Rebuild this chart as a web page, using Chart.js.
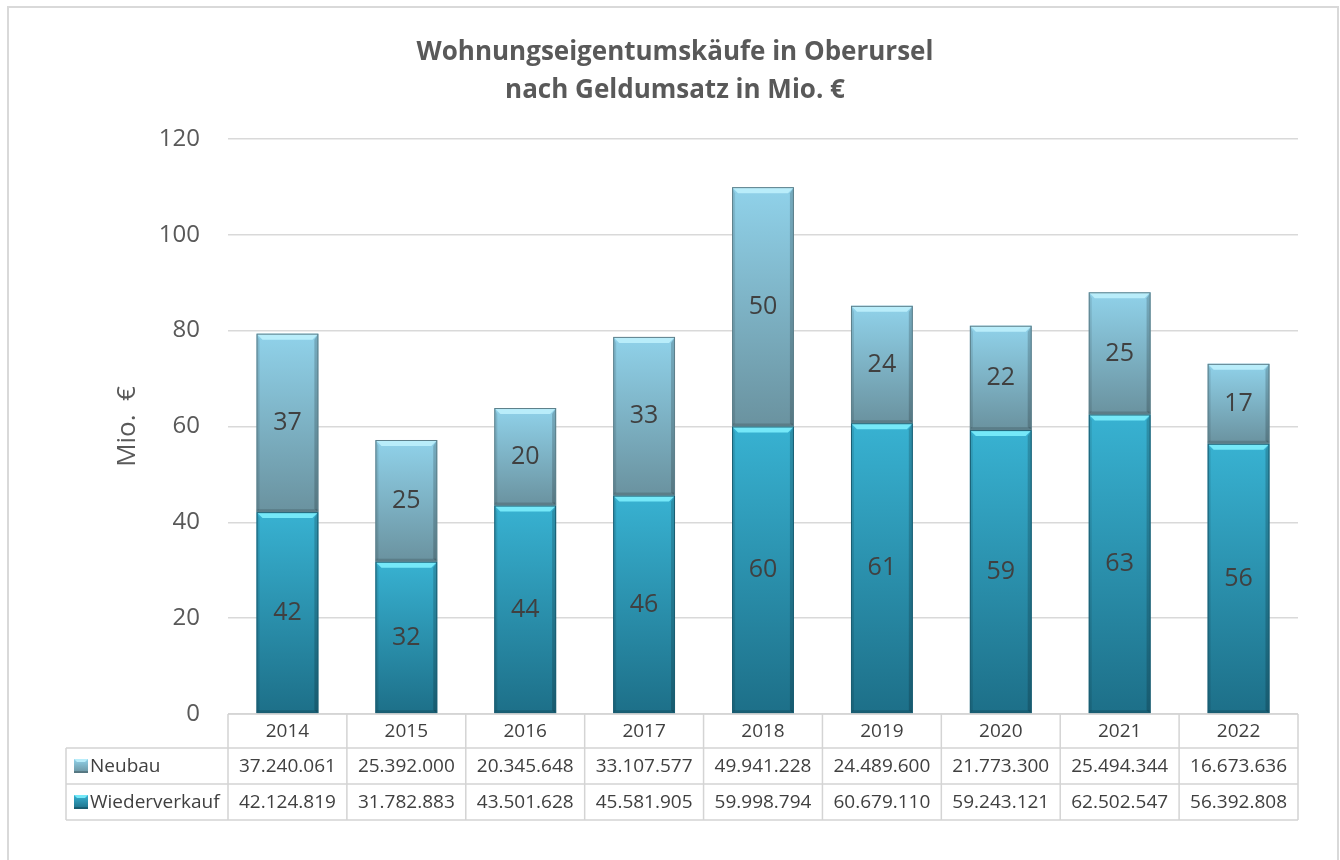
<!DOCTYPE html>
<html>
<head>
<meta charset="utf-8">
<script src="https://cdn.jsdelivr.net/npm/chart.js@4/dist/chart.umd.min.js"></script>
<style>
  html, body { margin: 0; padding: 0; background: #ffffff; }
  #wrap { position: relative; width: 1340px; height: 860px; }
  canvas { display: block; }
</style>
</head>
<body>
<div id="wrap"><canvas id="c" width="1340" height="860"></canvas></div>
<script>
const years = ['2014', '2015', '2016', '2017', '2018', '2019', '2020', '2021', '2022'];
const neubau = [37240061, 25392000, 20345648, 33107577, 49941228, 24489600, 21773300, 25494344, 16673636];
const wiederverkauf = [42124819, 31782883, 43501628, 45581905, 59998794, 60679110, 59243121, 62502547, 56392808];
const yTicksMax = 120;
const yTicksStep = 20;
const titleLines = ['Wohnungseigentumskäufe in Oberursel', 'nach Geldumsatz in Mio. €'];
const yTitle = 'Mio.  €';
const seriesNames = ['Neubau', 'Wiederverkauf'];

const toMio = v => v / 1e6;
const fmt = v => v.toLocaleString('de-DE');

const FONT = "'Open Sans', 'Noto Sans', sans-serif";
const GRID = '#d9d9d9';

const palette = {
  Wiederverkauf: { top: '#38b2d2', bottom: '#1d6f88', hi: 'rgba(120,235,250,0.95)', edge: '#1a5d72' },
  Neubau: { top: '#90d2ea', bottom: '#6a929f', hi: 'rgba(190,240,252,0.9)', edge: '#5d7f8a' }
};

function gradientFor(name) {
  return function (ctx) {
    const chart = ctx.chart;
    const ca = chart.chartArea;
    const p = palette[name];
    if (!ca || ctx.type !== 'data') return p.top;
    const y = chart.scales.y;
    const i = ctx.dataIndex;
    const start = name === 'Wiederverkauf' ? 0 : toMio(wiederverkauf[i]);
    const end = start + (name === 'Wiederverkauf' ? toMio(wiederverkauf[i]) : toMio(neubau[i]));
    const g = chart.ctx.createLinearGradient(0, y.getPixelForValue(end), 0, y.getPixelForValue(start));
    g.addColorStop(0, p.top);
    g.addColorStop(1, p.bottom);
    return g;
  };
}

const bevelPlugin = {
  id: 'bevel',
  afterDatasetsDraw(chart) {
    const ctx = chart.ctx;
    chart.data.datasets.forEach((ds, di) => {
      const p = palette[ds.label];
      chart.getDatasetMeta(di).data.forEach(el => {
        const l = el.x - el.width / 2, r = el.x + el.width / 2;
        const t = Math.min(el.y, el.base), b = Math.max(el.y, el.base);
        const bv = 6;
        ctx.save();
        ctx.fillStyle = p.hi;
        ctx.beginPath();
        ctx.moveTo(l, t); ctx.lineTo(r, t); ctx.lineTo(r - bv, t + bv); ctx.lineTo(l + bv, t + bv); ctx.closePath();
        ctx.fill();
        ctx.fillStyle = 'rgba(0,0,0,0.18)';
        ctx.beginPath();
        ctx.moveTo(r, t); ctx.lineTo(r, b); ctx.lineTo(r - 4, b - 3); ctx.lineTo(r - 4, t + bv); ctx.closePath();
        ctx.fill();
        ctx.fillStyle = 'rgba(0,0,0,0.10)';
        ctx.beginPath();
        ctx.moveTo(l, t); ctx.lineTo(l, b); ctx.lineTo(l + 3, b - 3); ctx.lineTo(l + 3, t + bv); ctx.closePath();
        ctx.fill();
        ctx.fillStyle = 'rgba(0,0,0,0.15)';
        ctx.fillRect(l, b - 3, r - l, 3);
        ctx.strokeStyle = p.edge;
        ctx.lineWidth = 1;
        ctx.strokeRect(l + 0.5, t + 0.5, r - l - 1, b - t - 1);
        ctx.restore();
      });
    });
    ctx.save();
    ctx.font = '25px ' + FONT;
    ctx.fillStyle = '#404040';
    ctx.textAlign = 'center';
    ctx.textBaseline = 'middle';
    chart.data.datasets.forEach((ds, di) => {
      chart.getDatasetMeta(di).data.forEach((el, i) => {
        ctx.fillText(String(Math.round(ds.data[i])), el.x, (el.y + el.base) / 2);
      });
    });
    ctx.restore();
  }
};

function drawKey(ctx, x, y, s, p) {
  const g = ctx.createLinearGradient(0, y, 0, y + s);
  g.addColorStop(0, p.top); g.addColorStop(1, p.bottom);
  ctx.fillStyle = g;
  ctx.fillRect(x, y, s, s);
  ctx.fillStyle = p.hi;
  ctx.beginPath();
  ctx.moveTo(x, y); ctx.lineTo(x + s, y); ctx.lineTo(x + s - 3, y + 3); ctx.lineTo(x + 3, y + 3); ctx.closePath();
  ctx.fill();
  ctx.fillStyle = 'rgba(0,0,0,0.2)';
  ctx.fillRect(x, y + s - 2, s, 2);
}

const tablePlugin = {
  id: 'dataTable',
  afterDraw(chart) {
    const ctx = chart.ctx;
    const x = chart.scales.x;
    const ca = chart.chartArea;
    const n = years.length;
    const cw = (ca.right - ca.left) / n;
    const rowH = [34, 36, 36];
    const top = ca.bottom;
    const r1 = top + rowH[0], r2 = r1 + rowH[1], r3 = r2 + rowH[2];
    const leftCol = 66;
    ctx.save();
    ctx.strokeStyle = GRID;
    ctx.lineWidth = 2;
    ctx.strokeRect(8, 7, 1330, 880);
    ctx.lineWidth = 1.5;
    ctx.strokeStyle = '#d4d4d4';
    ctx.beginPath();
    ctx.moveTo(ca.left, top); ctx.lineTo(ca.right, top);
    [r1, r2, r3].forEach(yy => { ctx.moveTo(leftCol, yy); ctx.lineTo(ca.right, yy); });
    ctx.moveTo(leftCol, r1); ctx.lineTo(leftCol, r3);
    for (let i = 0; i <= n; i++) {
      const xx = ca.left + i * cw;
      ctx.moveTo(xx, top); ctx.lineTo(xx, r3);
    }
    ctx.stroke();
    ctx.font = '19px ' + FONT;
    ctx.fillStyle = '#404040';
    ctx.textBaseline = 'middle';
    ctx.textAlign = 'center';
    years.forEach((yr, i) => {
      const cx = x.getPixelForValue(i);
      ctx.fillText(yr, cx, (top + r1) / 2 + 1);
      ctx.fillText(fmt(neubau[i]), cx, (r1 + r2) / 2 + 1);
      ctx.fillText(fmt(wiederverkauf[i]), cx, (r2 + r3) / 2 + 1);
    });
    ctx.textAlign = 'left';
    drawKey(ctx, 74, (r1 + r2) / 2 - 7, 14, palette.Neubau);
    ctx.fillStyle = '#404040';
    ctx.fillText(seriesNames[0], 90, (r1 + r2) / 2 + 1);
    drawKey(ctx, 74, (r2 + r3) / 2 - 7, 14, palette.Wiederverkauf);
    ctx.fillStyle = '#404040';
    ctx.fillText(seriesNames[1], 90, (r2 + r3) / 2 + 1);
    ctx.restore();
  }
};

new Chart(document.getElementById('c'), {
  type: 'bar',
  data: {
    labels: years,
    datasets: [
      { label: 'Wiederverkauf', data: wiederverkauf.map(toMio), backgroundColor: gradientFor('Wiederverkauf'), borderWidth: 0, barPercentage: 0.52, categoryPercentage: 1 },
      { label: 'Neubau', data: neubau.map(toMio), backgroundColor: gradientFor('Neubau'), borderWidth: 0, barPercentage: 0.52, categoryPercentage: 1 }
    ]
  },
  options: {
    responsive: false,
    animation: false,
    layout: { padding: { left: 52, right: 42, top: 12, bottom: 146 } },
    plugins: {
      legend: { display: false },
      tooltip: { enabled: false },
      title: {
        display: true,
        text: titleLines,
        color: '#595959',
        font: { family: FONT, size: 26, weight: 'bold', lineHeight: 1.46 },
        padding: { top: 22, bottom: 29 }
      }
    },
    scales: {
      x: { stacked: true, display: false },
      y: {
        stacked: true,
        min: 0, max: yTicksMax,
        afterFit(scale) { scale.width = 176; },
        ticks: { stepSize: yTicksStep, color: '#595959', font: { family: FONT, size: 24 }, padding: 28 },
        grid: { color: GRID, lineWidth: 1.5, drawTicks: false },
        border: { display: false },
        title: { display: true, text: yTitle, color: '#595959', font: { family: FONT, size: 26 }, padding: { top: 60, bottom: 4 } }
      }
    }
  },
  plugins: [bevelPlugin, tablePlugin]
});
</script>
</body>
</html>
